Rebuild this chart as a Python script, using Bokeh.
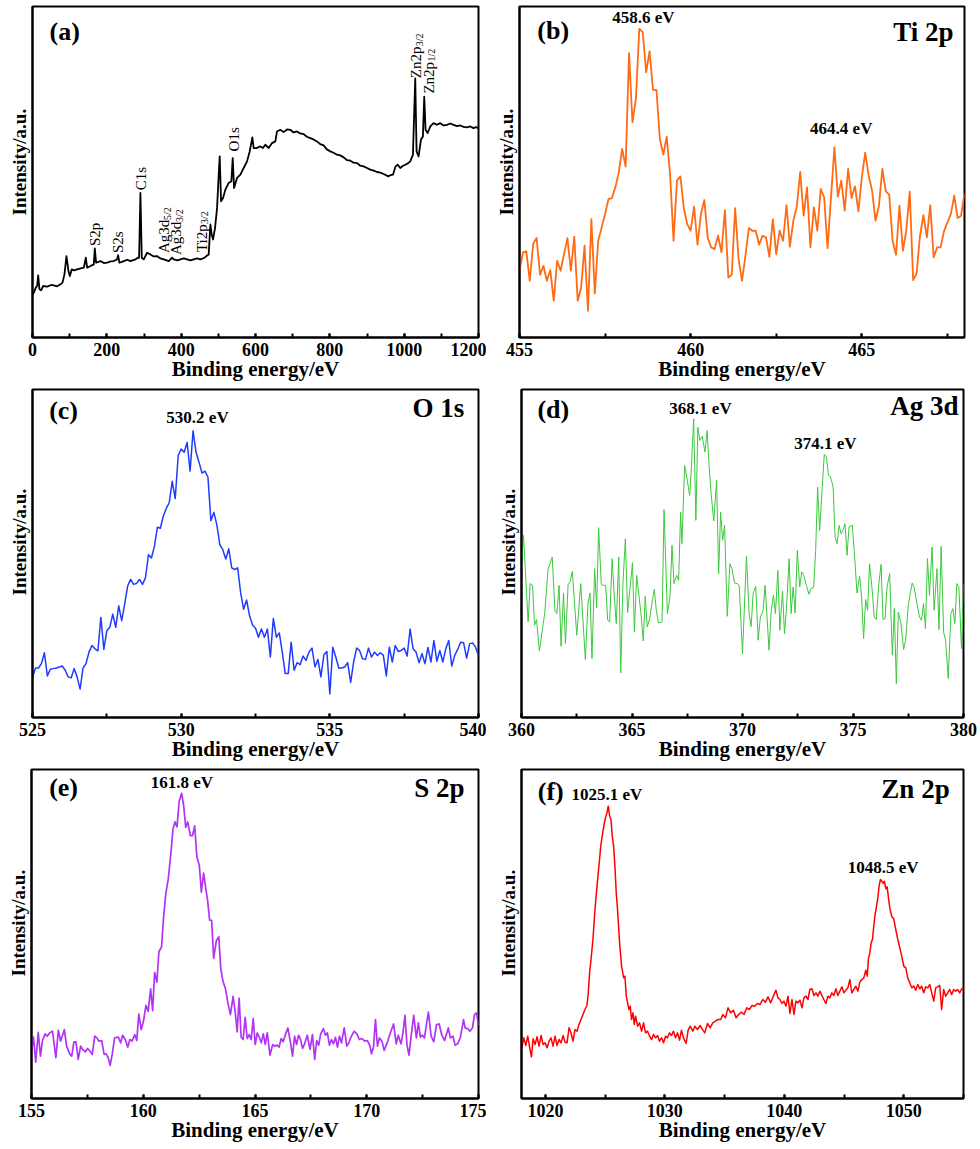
import numpy as np
from bokeh.plotting import figure
from bokeh.layouts import column, row
from bokeh.models import SingleIntervalTicker, FixedTicker, Range1d, Title
from bokeh.embed import file_html
from bokeh.resources import INLINE
from bokeh.core.properties import value

FONT = "Liberation Serif"

# ---------------- (a) survey spectrum ----------------
E_SURVEY = [0, 3.6, 9.0, 12.5, 15.2, 18.8, 23.3, 28.7, 39.4, 50, 57.4, 66, 75.3, 80.7, 86.0, 91.4,
            96.8, 100.4, 105.8, 112, 120.1, 130, 138.0, 143.4, 147.0, 156.0, 164.9, 167.6, 171.2,
            182.8, 192, 200.8, 210, 218.7, 227.7, 230.3, 233.9, 245.6, 255, 263.5, 277.0, 283.2,
            286.8, 290.4, 294.0, 299.4, 308.3, 317.3, 326, 335.2, 344, 353.1, 366.6, 375.5, 380.0,
            390, 397.9, 407, 415.9, 425, 433.8, 443, 451.7, 462.5, 467.9, 474.1, 478.6, 482.2,
            485.8, 491.2, 496.6, 501.0, 503.7, 507.3, 512.7, 519.0, 527.9, 535.1, 538.7, 542.3,
            550.3, 559.3, 568.2, 577.2, 584.4, 591.6, 595.1, 602.3, 613.1, 620, 626.5, 635.5,
            644.4, 653.4, 657.9, 666.8, 675.8, 685, 693.7, 702, 711.7, 720, 729.6, 738, 747.5,
            756, 765.4, 774, 783.4, 792, 801.3, 810, 819.2, 828, 837.1, 846, 855.1, 864, 873.0,
            882, 890.9, 900, 908.8, 918, 926.8, 936, 944.7, 952, 958.1, 964, 969.8, 976.9, 982.3,
            989.5, 996, 1003.0, 1010, 1016.4, 1023.6, 1029.8, 1033.4, 1038.8, 1045.1, 1050.4,
            1054.0, 1057.6, 1063.0, 1070.2, 1079.1, 1088, 1097.1, 1106, 1115.0, 1124, 1132.9,
            1142, 1150.8, 1160, 1168.8, 1178, 1186.7, 1193, 1200]
I_SURVEY = [13.0, 13.5, 15.0, 15.5, 18.7, 14.5, 14.2, 15.5, 15.3, 15.8, 15.7, 15.4, 16.0, 16.5, 19.0, 24.5,
            20.0, 18.5, 20.5, 20.2, 20.5, 20.8, 21.0, 24.0, 21.0, 21.5, 22.0, 26.8, 22.5,
            23.0, 22.4, 22.5, 22.9, 23.0, 23.5, 24.8, 22.5, 23.0, 23.4, 23.0, 23.5, 24.0,
            24.0, 43.5, 24.0, 23.5, 25.5, 25.0, 24.4, 24.5, 23.8, 23.5, 23.0, 24.0, 23.5,
            23.2, 23.5, 23.8, 23.5, 23.2, 23.5, 23.8, 23.5, 24.0, 24.5, 25.0, 34.0, 31.0,
            29.5, 33.0, 39.0, 49.0, 54.5, 41.0, 42.0, 44.5, 46.5, 47.0, 54.0, 45.0,
            48.0, 49.0, 51.0, 53.0, 56.0, 60.2, 57.0, 57.0, 57.5, 57.0, 58.0, 57.0,
            58.5, 59.0, 62.0, 62.5, 61.8, 62.6, 62.5, 61.7, 62.0, 61.4, 61.2, 60.4, 60.0,
            59.6, 59.0, 58.2, 57.8, 56.6, 56.0, 55.6, 55.0, 54.8, 54.2, 53.4, 53.2, 52.6, 52.5,
            51.7, 51.5, 51.0, 50.5, 50.2, 49.8, 49.6, 49.2, 48.8, 48.5, 48.9, 49.0, 51.5, 52.0,
            51.0, 51.6, 52.0, 52.4, 53.0, 55.0, 78.0, 56.0, 54.5, 59.5, 60.5,
            72.5, 62.5, 61.5, 63.5, 64.5, 64.0, 64.5, 63.8, 64.0, 64.4, 64.0,
            63.6, 63.8, 63.4, 63.2, 63.5, 63.0, 63.3, 63.0]
SURVEY_LABELS = ["S2p", "S2s", "C1s", "Ag3d", "Ag3d", "Ti2p", "O1s", "Zn2p", "Zn2p"]
SURVEY_SUBS = ["", "", "", "5/2", "3/2", "3/2", "", "3/2", "1/2"]
SURVEY_LABEL_E = [169, 231, 293, 355, 387, 455, 543, 1033, 1066]
SURVEY_LABEL_I = [27.5, 25.4, 44.3, 25.4, 24.8, 25.7, 56.0, 78.0, 73.4]

# ---------------- (b) Ti 2p ----------------
E_TI = np.round(np.arange(455.0, 468.05, 0.1), 1)
I_TI = [20.0, 25.5, 25.8, 17.0, 28.2, 29.8, 18.8, 21.5, 17.0, 20.2,
        11.0, 23.0, 20.0, 25.0, 29.8, 20.0, 30.2, 11.0, 15.0, 27.5,
        8.0, 35.5, 13.2, 29.0, 33.0, 37.0, 41.5, 41.8, 45.0, 49.5,
        56.5, 51.2, 85.2, 64.5, 71.5, 92.5, 91.5, 79.5, 85.8, 74.2,
        74.2, 59.5, 54.8, 60.2, 48.8, 29.0, 47.0, 48.3, 38.8, 34.0,
        32.0, 39.2, 27.8, 37.0, 41.2, 29.8, 27.0, 26.5, 30.5, 25.5,
        38.2, 18.0, 18.8, 38.8, 23.5, 17.0, 24.5, 32.8, 32.0, 32.0,
        27.8, 30.5, 30.0, 24.2, 35.5, 25.0, 32.0, 29.0, 39.7, 27.2,
        35.0, 39.2, 49.6, 36.5, 45.0, 27.0, 39.0, 32.0, 44.5, 42.0,
        26.8, 42.0, 57.0, 42.2, 47.0, 38.0, 50.5, 41.8, 45.3, 37.8,
        48.0, 55.4, 48.5, 44.0, 35.0, 39.5, 50.5, 43.8, 42.8, 29.0,
        24.8, 39.5, 26.0, 32.2, 43.7, 17.2, 19.2, 30.5, 36.7, 30.0,
        39.7, 24.0, 27.0, 27.0, 31.8, 34.5, 37.0, 42.5, 35.8, 36.5,
        43.2]

# ---------------- (c) O 1s ----------------
E_O = np.round(np.arange(525.0, 540.05, 0.1), 1)
I_O = [12.0, 15.0, 15.0, 16.3, 19.6, 12.6, 14.6, 14.8, 15.0, 15.3,
       15.6, 14.3, 12.3, 12.0, 14.8, 12.3, 8.6, 15.0, 16.3, 19.8,
       21.8, 20.8, 20.2, 30.3, 20.6, 26.3, 27.3, 31.3, 27.3, 33.8,
       29.3, 34.3, 39.8, 41.8, 40.3, 40.6, 41.8, 40.3, 42.3, 49.3,
       48.3, 51.8, 57.6, 57.3, 61.0, 63.3, 65.1, 71.5, 66.3, 79.3,
       81.3, 80.3, 83.3, 74.6, 86.8, 80.3, 77.3, 74.0, 74.6, 72.8,
       59.6, 62.1, 58.3, 52.3, 50.8, 48.0, 51.1, 45.3, 44.8, 45.3,
       37.8, 32.8, 35.6, 30.8, 28.0, 27.0, 24.3, 26.8, 24.3, 26.8,
       18.3, 30.0, 24.3, 25.6, 19.8, 13.3, 13.3, 22.8, 14.3, 16.6,
       16.0, 18.6, 17.3, 19.8, 21.0, 15.3, 17.6, 12.3, 19.0, 20.0,
       7.1, 21.3, 18.3, 15.0, 15.0, 15.3, 16.6, 10.6, 16.8, 21.0,
       20.3, 17.8, 17.6, 21.0, 18.3, 19.8, 18.8, 19.6, 18.8, 12.6,
       21.3, 16.8, 21.8, 20.0, 20.3, 21.0, 18.6, 26.8, 20.8, 19.8,
       16.6, 19.3, 16.3, 21.2, 16.8, 23.3, 17.0, 20.3, 16.8, 20.8,
       23.3, 15.6, 18.8, 20.6, 22.8, 22.6, 18.0, 22.3, 22.6, 21.3,
       18.8]

# ---------------- (d) Ag 3d ----------------
E_AG = [360.00, 360.09, 360.30, 360.39, 360.50, 360.59, 360.68, 360.81, 360.95, 361.05,
        361.20, 361.39, 361.51, 361.60, 361.70, 361.79, 361.90, 361.99, 362.11, 362.20,
        362.30, 362.50, 362.68, 362.89, 363.01, 363.10, 363.19, 363.31, 363.40, 363.49,
        363.61, 363.70, 363.81, 363.90, 363.99, 364.10, 364.20, 364.29, 364.40, 364.49,
        364.59, 364.70, 364.80, 364.91, 365.02, 365.11, 365.21, 365.32, 365.42, 365.51,
        365.60, 365.69, 365.80, 365.90, 366.01, 366.10, 366.20, 366.36, 366.45, 366.60,
        366.72, 366.81, 366.90, 367.02, 367.11, 367.20, 367.26, 367.38, 367.50, 367.61,
        367.68, 367.79, 367.89, 367.98, 368.07, 368.18, 368.30, 368.40, 368.49, 368.58,
        368.70, 368.83, 368.92, 369.01, 369.10, 369.19, 369.31, 369.43, 369.52, 369.64,
        369.76, 369.85, 370.00, 370.18, 370.30, 370.39, 370.48, 370.60, 370.71, 370.81,
        370.93, 371.02, 371.11, 371.20, 371.30, 371.40, 371.49, 371.60, 371.69, 371.81,
        371.90, 371.99, 372.11, 372.20, 372.29, 372.38, 372.48, 372.59, 372.68, 372.77,
        372.89, 373.01, 373.10, 373.22, 373.31, 373.40, 373.49, 373.61, 373.70, 373.80,
        373.89, 373.98, 374.10, 374.19, 374.28, 374.37, 374.46, 374.55, 374.64, 374.73,
        374.82, 374.97, 375.09, 375.18, 375.30, 375.39, 375.48, 375.57, 375.66, 375.75,
        375.87, 375.96, 376.05, 376.17, 376.27, 376.36, 376.45, 376.54, 376.66, 376.78,
        376.87, 376.96, 377.05, 377.17, 377.29, 377.38, 377.50, 377.59, 377.68, 377.77,
        377.89, 378.01, 378.10, 378.19, 378.28, 378.37, 378.46, 378.58, 378.67, 378.80,
        378.89, 378.99, 379.10, 379.19, 379.31, 379.43, 379.52, 379.61, 379.70, 379.79,
        379.91, 380.00]
I_AG = [45.7, 54.7, 28.7, 40.2, 39.7, 27.7, 29.4, 20.0, 26.7, 31.2,
        44.4, 48.2, 32.2, 31.2, 39.7, 21.4, 37.4, 22.2, 40.2, 40.7,
        43.9, 24.7, 40.2, 17.4, 34.4, 37.4, 17.7, 44.7, 32.9, 57.0,
        40.0, 39.7, 39.7, 29.2, 28.7, 47.7, 36.2, 28.2, 48.2, 13.4,
        40.4, 53.7, 31.5, 38.7, 46.5, 25.7, 42.7, 36.4, 30.2, 23.0,
        36.4, 27.2, 29.7, 34.2, 38.5, 32.2, 28.4, 28.7, 62.4, 31.2,
        36.2, 51.7, 40.2, 42.7, 41.2, 61.7, 52.2, 75.7, 71.2, 66.7,
        74.2, 89.7, 59.2, 87.2, 83.2, 84.4, 79.7, 86.2, 75.2, 67.2,
        59.0, 71.2, 43.2, 61.7, 53.2, 57.7, 30.4, 46.2, 44.7, 40.4,
        40.2, 39.7, 19.2, 48.5, 31.2, 27.2, 37.2, 39.4, 23.2, 30.2,
        32.2, 39.7, 30.2, 20.2, 32.2, 36.7, 31.2, 44.2, 26.2, 38.0,
        25.2, 32.7, 47.7, 31.2, 39.2, 31.4, 50.2, 39.2, 43.7, 42.7,
        39.7, 37.0, 38.7, 39.0, 50.2, 69.2, 56.2, 69.2, 79.0, 78.2,
        72.7, 72.4, 69.2, 54.2, 52.2, 57.7, 55.2, 56.2, 58.2, 48.7,
        57.2, 57.7, 46.7, 37.4, 42.4, 36.2, 23.7, 35.4, 32.2, 46.2,
        38.2, 30.2, 29.4, 40.2, 46.0, 29.4, 29.7, 39.2, 43.2, 18.7,
        32.7, 10.2, 31.7, 28.2, 20.4, 23.2, 33.7, 37.2, 40.4, 39.0,
        34.2, 30.2, 29.2, 34.2, 26.7, 47.7, 36.7, 51.2, 32.2, 44.7,
        26.4, 51.4, 25.7, 23.2, 11.7, 31.2, 32.7, 28.2, 40.2, 39.2,
        20.7, 40.2]

# ---------------- (e) S 2p ----------------
E_S = [155.00, 155.09, 155.19, 155.30, 155.40, 155.49, 155.61, 155.70, 155.82, 155.94,
       156.09, 156.20, 156.30, 156.47, 156.57, 156.72, 156.80, 156.90, 156.99, 157.09,
       157.20, 157.29, 157.41, 157.51, 157.62, 157.72, 157.83, 157.92, 158.02, 158.14,
       158.25, 158.34, 158.43, 158.52, 158.61, 158.72, 158.89, 158.99, 159.08, 159.19,
       159.31, 159.40, 159.50, 159.62, 159.71, 159.80, 159.91, 160.01, 160.12, 160.22,
       160.33, 160.42, 160.51, 160.61, 160.70, 160.82, 160.91, 161.01, 161.12, 161.24,
       161.33, 161.42, 161.51, 161.61, 161.72, 161.81, 161.90, 161.99, 162.11, 162.20,
       162.30, 162.40, 162.51, 162.60, 162.70, 162.81, 162.88, 162.97, 163.06, 163.15,
       163.27, 163.38, 163.47, 163.57, 163.68, 163.78, 163.90, 164.02, 164.12, 164.20,
       164.29, 164.38, 164.47, 164.56, 164.65, 164.74, 164.83, 164.92, 165.01, 165.10,
       165.19, 165.28, 165.37, 165.46, 165.55, 165.67, 165.79, 165.88, 165.99, 166.08,
       166.17, 166.26, 166.37, 166.47, 166.59, 166.68, 166.77, 166.86, 166.95, 167.04,
       167.13, 167.22, 167.34, 167.46, 167.57, 167.67, 167.76, 167.85, 167.94, 168.06,
       168.15, 168.24, 168.33, 168.42, 168.51, 168.60, 168.69, 168.78, 168.87, 168.99,
       169.11, 169.20, 169.29, 169.44, 169.56, 169.67, 169.79, 169.91, 170.03, 170.15,
       170.21, 170.30, 170.39, 170.48, 170.57, 170.69, 170.78, 170.93, 171.08, 171.20,
       171.32, 171.41, 171.53, 171.62, 171.71, 171.80, 171.89, 171.98, 172.10, 172.22,
       172.31, 172.40, 172.49, 172.58, 172.67, 172.76, 172.88, 173.00, 173.12, 173.24,
       173.36, 173.48, 173.57, 173.65, 173.74, 173.86, 173.95, 174.07, 174.19, 174.33,
       174.40, 174.52, 174.61, 174.73, 174.82, 174.91, 175.00]
I_S = [14.3, 18.5, 11.0, 20.0, 12.8, 17.5, 19.5, 18.8, 19.8, 20.3,
       12.3, 20.6, 17.3, 20.8, 15.8, 13.3, 12.8, 17.1, 17.1, 11.8,
       15.8, 14.8, 14.1, 15.1, 14.3, 13.3, 18.8, 18.3, 17.3, 17.5,
       13.3, 13.5, 12.3, 10.0, 13.3, 18.3, 18.5, 16.8, 19.1, 17.8,
       15.5, 17.8, 17.3, 19.3, 17.5, 25.5, 20.8, 23.3, 28.1, 26.3,
       33.1, 26.5, 38.1, 35.1, 44.3, 45.8, 54.8, 61.8, 66.3, 74.3,
       81.3, 83.5, 82.0, 89.8, 92.1, 88.3, 81.8, 83.5, 79.3, 79.3,
       82.3, 72.8, 70.3, 62.3, 68.0, 62.8, 59.8, 53.8, 53.8, 42.3,
       47.6, 48.8, 39.1, 35.3, 33.1, 29.1, 25.3, 30.8, 25.8, 20.1,
       30.3, 18.5, 17.8, 24.5, 18.1, 19.3, 17.8, 24.1, 16.3, 19.8,
       18.5, 16.8, 19.5, 16.3, 19.8, 13.1, 16.3, 15.8, 16.1, 15.5,
       18.1, 17.1, 19.5, 21.3, 16.8, 12.8, 18.8, 16.3, 19.1, 17.8,
       15.1, 16.5, 19.1, 14.8, 19.3, 11.8, 17.5, 16.1, 19.5, 21.1,
       19.1, 19.8, 16.1, 17.8, 16.5, 18.5, 15.5, 18.8, 16.8, 21.3,
       15.8, 16.8, 18.5, 20.3, 19.5, 17.8, 18.1, 17.3, 17.5, 15.8,
       13.5, 15.5, 23.8, 15.8, 18.3, 17.1, 14.5, 17.1, 20.3, 22.5,
       16.5, 19.1, 16.5, 19.8, 25.1, 16.1, 13.1, 18.5, 25.1, 18.3,
       22.8, 18.5, 19.1, 18.3, 22.3, 26.1, 18.8, 17.1, 22.3, 22.5,
       19.1, 17.5, 19.5, 21.3, 18.3, 18.8, 16.1, 16.5, 18.5, 23.8,
       21.3, 21.1, 20.3, 21.3, 25.3, 25.8, 22.1]

# ---------------- (f) Zn 2p ----------------
E_ZN = [1018.00, 1018.19, 1018.36, 1018.52, 1018.69, 1018.83, 1018.97, 1019.14, 1019.30, 1019.47,
        1019.64, 1019.81, 1019.97, 1020.14, 1020.31, 1020.47, 1020.64, 1020.81, 1020.97, 1021.14,
        1021.31, 1021.48, 1021.64, 1021.81, 1021.98, 1022.14, 1022.31, 1022.48, 1022.65, 1022.81,
        1022.98, 1023.15, 1023.31, 1023.48, 1023.59, 1023.70, 1023.82, 1023.98, 1024.15, 1024.32,
        1024.48, 1024.65, 1024.82, 1024.99, 1025.15, 1025.26, 1025.38, 1025.49, 1025.60, 1025.71,
        1025.82, 1025.93, 1026.04, 1026.21, 1026.38, 1026.55, 1026.66, 1026.77, 1026.88, 1026.99,
        1027.10, 1027.21, 1027.33, 1027.44, 1027.55, 1027.72, 1027.88, 1028.05, 1028.22, 1028.38,
        1028.55, 1028.72, 1028.89, 1029.05, 1029.22, 1029.39, 1029.55, 1029.72, 1029.89, 1030.06,
        1030.22, 1030.39, 1030.56, 1030.72, 1030.89, 1031.06, 1031.23, 1031.39, 1031.56, 1031.78,
        1031.95, 1032.12, 1032.34, 1032.51, 1032.73, 1032.95, 1033.18, 1033.34, 1033.57, 1033.79,
        1034.01, 1034.23, 1034.46, 1034.68, 1034.85, 1035.07, 1035.29, 1035.52, 1035.74, 1035.96,
        1036.18, 1036.41, 1036.63, 1036.85, 1037.07, 1037.30, 1037.52, 1037.74, 1037.97, 1038.19,
        1038.41, 1038.64, 1038.86, 1039.08, 1039.30, 1039.47, 1039.64, 1039.80, 1039.97, 1040.14,
        1040.31, 1040.47, 1040.64, 1040.81, 1040.97, 1041.14, 1041.31, 1041.48, 1041.64, 1041.81,
        1041.98, 1042.14, 1042.31, 1042.48, 1042.65, 1042.81, 1042.98, 1043.15, 1043.31, 1043.48,
        1043.65, 1043.82, 1043.98, 1044.15, 1044.32, 1044.48, 1044.65, 1044.82, 1044.99, 1045.15,
        1045.32, 1045.49, 1045.65, 1045.82, 1045.99, 1046.16, 1046.32, 1046.49, 1046.66, 1046.82,
        1046.94, 1047.05, 1047.16, 1047.27, 1047.38, 1047.49, 1047.60, 1047.72, 1047.83, 1047.94,
        1048.05, 1048.16, 1048.27, 1048.38, 1048.50, 1048.61, 1048.72, 1048.83, 1049.00, 1049.16,
        1049.33, 1049.50, 1049.67, 1049.83, 1050.00, 1050.17, 1050.33, 1050.50, 1050.67, 1050.84,
        1051.00, 1051.17, 1051.34, 1051.50, 1051.67, 1051.84, 1052.01, 1052.17, 1052.34, 1052.51,
        1052.67, 1052.84, 1053.01, 1053.17, 1053.34, 1053.51, 1053.68, 1053.84, 1054.01, 1054.18,
        1054.34, 1054.51, 1054.68, 1054.85, 1055.00]
I_ZN = [14.7, 18.2, 15.9, 18.7, 15.2, 12.5, 17.9, 16.2, 18.5, 15.7,
        18.9, 16.2, 16.7, 15.2, 17.2, 18.2, 15.7, 18.7, 15.9, 17.7,
        16.7, 18.9, 16.9, 16.7, 21.2, 19.7, 17.2, 20.7, 20.2, 22.2,
        23.7, 25.2, 26.7, 27.9, 31.7, 37.7, 41.7, 47.7, 56.7, 63.7,
        69.7, 76.2, 80.2, 83.7, 85.7, 87.7, 84.7, 83.7, 78.7, 75.7,
        69.7, 61.7, 56.7, 46.7, 39.7, 36.2, 36.7, 30.7, 28.7, 26.7,
        27.7, 23.7, 25.7, 22.2, 24.7, 21.7, 22.7, 20.2, 22.7, 19.7,
        20.2, 18.7, 17.7, 19.2, 18.2, 18.9, 17.2, 18.2, 16.7, 18.7,
        18.2, 19.7, 18.9, 20.2, 18.2, 19.7, 17.5, 20.5, 18.2, 16.5,
        20.5, 21.7, 20.2, 21.7, 20.7, 21.9, 20.5, 19.7, 22.5, 21.2,
        22.7, 23.2, 23.7, 23.7, 25.2, 24.2, 27.2, 25.7, 26.5, 24.2,
        25.2, 25.9, 25.2, 27.2, 26.7, 27.9, 27.7, 28.5, 28.2, 29.7,
        28.9, 30.5, 28.7, 30.7, 32.5, 30.2, 29.7, 28.5, 29.2, 27.7,
        30.7, 25.5, 29.7, 25.2, 29.2, 28.7, 29.5, 27.2, 30.2, 30.7,
        29.7, 32.7, 32.9, 30.9, 31.7, 30.7, 32.2, 30.9, 29.7, 28.5,
        30.7, 30.2, 31.7, 30.9, 32.9, 30.9, 32.2, 33.5, 31.7, 32.5,
        33.2, 35.7, 31.7, 32.7, 33.7, 32.2, 34.9, 35.7, 36.2, 38.5,
        36.7, 42.2, 43.7, 46.7, 47.7, 51.7, 55.2, 57.7, 60.2, 63.9,
        65.7, 65.2, 64.5, 65.2, 62.9, 63.5, 60.2, 57.2, 54.5, 53.9,
        50.7, 47.7, 45.2, 42.7, 39.7, 39.2, 36.2, 34.7, 33.2, 33.7,
        32.5, 34.2, 32.9, 33.7, 31.7, 33.5, 33.2, 34.2, 31.7, 29.2,
        33.2, 33.5, 33.9, 26.7, 32.7, 30.7, 31.7, 32.7, 31.2, 32.7,
        32.2, 32.7, 31.7, 32.9, 32.9]

for a, b in [(E_SURVEY, I_SURVEY), (E_TI, I_TI), (E_O, I_O), (E_AG, I_AG), (E_S, I_S), (E_ZN, I_ZN)]:
    assert len(a) == len(b), (len(a), len(b))

X_TITLE = "Binding energy/eV"
Y_TITLE = "Intensity/a.u."


def panel(xr, ytop, w, h, bl, br, bt, bb, interval):
    p = figure(width=w, height=h, x_range=Range1d(xr[0], xr[1]), y_range=Range1d(0, ytop),
               output_backend="svg", toolbar_location=None, tools="",
               min_border_left=bl, min_border_right=br, min_border_top=bt, min_border_bottom=bb,
               background_fill_color="white", border_fill_color="white")
    p.grid.visible = False
    p.outline_line_color = "black"
    p.outline_line_width = 2
    p.outline_line_alpha = 1.0
    xa = p.xaxis[0]
    xa.ticker = SingleIntervalTicker(interval=interval, num_minor_ticks=2)
    xa.axis_line_width = 2
    xa.major_tick_in = 4
    xa.major_tick_out = 0
    xa.minor_tick_in = 4
    xa.minor_tick_out = 0
    xa.major_tick_line_width = 2
    xa.minor_tick_line_width = 2
    xa.major_label_text_font = FONT
    xa.major_label_text_font_style = "bold"
    xa.major_label_text_font_size = "18px"
    xa.major_label_text_color = "black"
    xa.major_label_standoff = 5
    xa.axis_label = X_TITLE
    xa.axis_label_text_font = FONT
    xa.axis_label_text_font_style = "bold"
    xa.axis_label_text_font_size = "21px"
    xa.axis_label_text_color = "black"
    xa.axis_label_standoff = -2
    ya = p.yaxis[0]
    ya.ticker = FixedTicker(ticks=[])
    ya.axis_line_width = 2
    ya.major_tick_line_color = None
    ya.minor_tick_line_color = None
    ya.major_tick_out = 0
    ya.minor_tick_out = 0
    ya.major_label_standoff = 0
    ya.major_label_text_color = None
    # the y title starts about 122 px above the frame bottom in the original
    p.add_layout(Title(text=Y_TITLE, align="left", offset=122, standoff=5,
                       text_font=FONT, text_font_style="bold", text_font_size="19px",
                       text_color="black"), "left")
    return p


def put_text(p, x, y, txt, size, align, bold=True, baseline="middle"):
    p.text(x=[x], y=[y], text=[txt], text_font=value(FONT),
           text_font_style="bold" if bold else "normal", text_font_size=size,
           text_align=align, text_baseline=baseline, text_color="black")


def corner_labels(p, tag, tag_x, tag_y, name, name_x, name_y):
    put_text(p, tag_x, tag_y, tag, "26px", "left")
    put_text(p, name_x, name_y, name, "27px", "right")


LW = dict(line_join="round")

# row 1 (397 px tall; the next row overlaps its empty bottom border)
pa = panel((0, 1200), 99.6, 486, 397, 32, 8, 5, 60, 200)
pa.line(E_SURVEY, I_SURVEY, line_color="black", line_width=1.8, **LW)
put_text(pa, 45.7, 92, "(a)", "26px", "left")
pa.text(x=SURVEY_LABEL_E, y=SURVEY_LABEL_I, text=SURVEY_LABELS, angle=np.pi / 2,
        text_font=value(FONT), text_font_size="15px", text_align="left",
        text_baseline="middle", text_color="black")
SUB_SHIFT = {"Ag3d": 33, "Ti2p": 28, "Zn2p": 32}
for lab, sub, e, i in zip(SURVEY_LABELS, SURVEY_SUBS, SURVEY_LABEL_E, SURVEY_LABEL_I):
    if sub:
        pa.text(x=[e], y=[i], text=[sub], angle=np.pi / 2, x_offset=3, y_offset=-SUB_SHIFT[lab],
                text_font=value(FONT), text_font_size="10px", text_align="left",
                text_baseline="middle", text_color="black")

pb = panel((455, 468), 99.2, 494, 397, 33, 16, 6, 60, 5)
pb.line(E_TI, I_TI, line_color="#FF6A13", line_width=1.8, **LW)
corner_labels(pb, "(b)", 455.52, 92, "Ti 2p", 467.68, 91.7)
put_text(pb, 458.62, 95.9, "458.6 eV", "17px", "center")
put_text(pb, 464.40, 62.6, "464.4 eV", "17px", "center")

# row 2
pc = panel((525, 540), 99.3, 486, 396, 32, 8, 5, 60, 5)
pc.line(E_O, I_O, line_color="#1F3BFF", line_width=1.5, **LW)
corner_labels(pc, "(c)", 525.56, 93, "O 1s", 539.52, 93.6)
put_text(pc, 530.55, 90.9, "530.2 eV", "17px", "center")

pd_ = panel((360, 380), 98.5, 494, 396, 35, 17, 6, 62, 5)
pd_.line(E_AG, I_AG, line_color="#3CC83C", line_width=1.0, **LW)
corner_labels(pd_, "(d)", 360.72, 92.5, "Ag 3d", 379.77, 93.5)
put_text(pd_, 368.10, 92.7, "368.1 eV", "17px", "center")
put_text(pd_, 373.75, 82.4, "374.1 eV", "17px", "center")

# row 3
pe = panel((155, 175), 99.3, 486, 394, 31, 8, 3, 60, 5)
pe.line(E_S, I_S, line_color="#B233F5", line_width=1.7, **LW)
corner_labels(pe, "(e)", 155.79, 93.8, "S 2p", 174.37, 93.8)
put_text(pe, 161.73, 95.3, "161.8 eV", "17px", "center")

pf = panel((1018, 1055), 98.7, 494, 394, 35, 17, 3, 62, 10)
pf.line(E_ZN, I_ZN, line_color="#FF0000", line_width=1.5, **LW)
corner_labels(pf, "(f)", 1019.36, 92.2, "Zn 2p", 1053.84, 93.0)
put_text(pf, 1025.15, 91.2, "1025.1 eV", "17px", "center")
put_text(pf, 1048.27, 69.2, "1048.5 eV", "17px", "center")

layout = column(row(pa, pb, spacing=0),
                row(pc, pd_, spacing=0, margin=(-14, 0, 0, 0)),
                row(pe, pf, spacing=0, margin=(-13, 0, -11, 0)),
                spacing=0)
open("out.html", "w").write(file_html(layout, INLINE))
